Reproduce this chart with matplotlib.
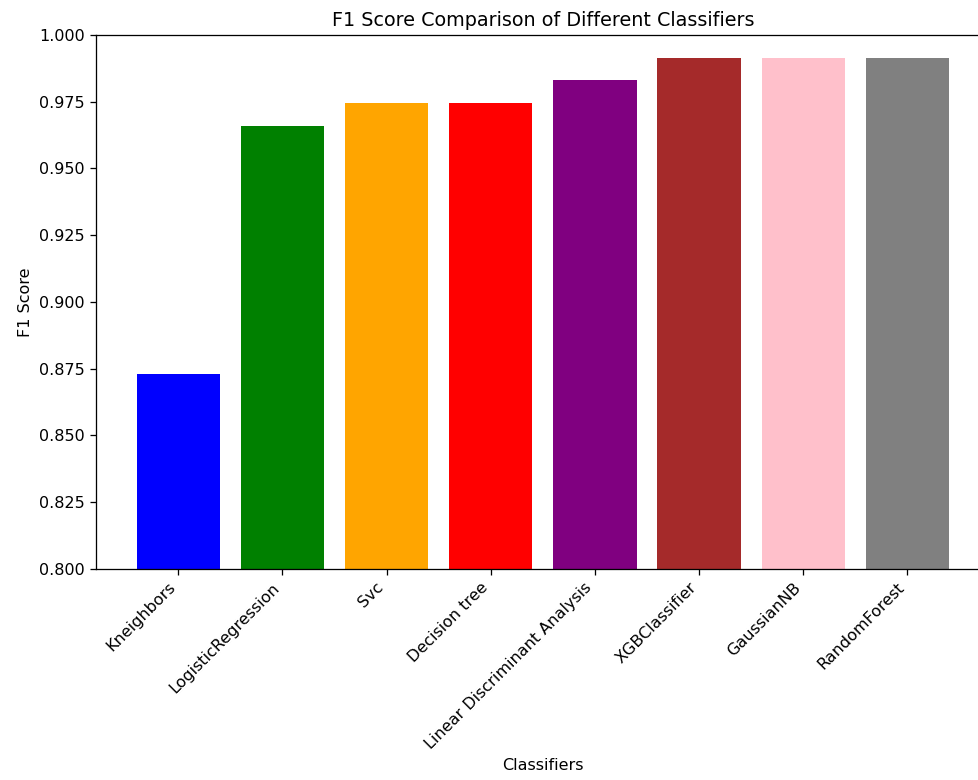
import matplotlib
matplotlib.use("Agg")
import matplotlib.pyplot as plt

# classifier names and their F1 scores
classifiers = ["Kneighbors", "LogisticRegression", "Svc", "Decision tree",
               "Linear Discriminant Analysis", "XGBClassifier", "GaussianNB", "RandomForest"]
f1_scores = [0.8729, 0.9659, 0.9746, 0.9746, 0.9832, 0.9915, 0.9915, 0.9915]
colors = ["blue", "green", "orange", "red", "purple", "brown", "pink", "gray"]

dpi = 115
fig, ax = plt.subplots(figsize=(979 / dpi, 780 / dpi), dpi=dpi)
# the reference is cropped on the right, so the axes run past the edge
fig.subplots_adjust(left=0.098, right=1.011, top=0.955, bottom=0.271)
ax.spines["right"].set_visible(False)

ax.bar(classifiers, f1_scores, color=colors)
ax.set_ylim(0.8, 1.0)
ax.set_title("F1 Score Comparison of Different Classifiers")
ax.set_xlabel("Classifiers")
ax.set_ylabel("F1 Score")
plt.xticks(rotation=45, ha="right")

fig.savefig("out.png", dpi=dpi)
